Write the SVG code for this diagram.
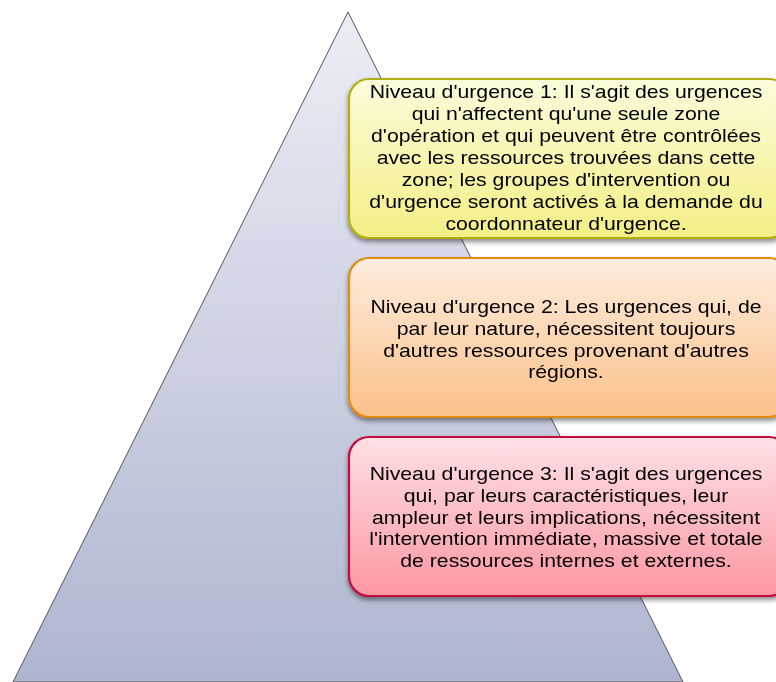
<svg xmlns="http://www.w3.org/2000/svg" width="776" height="682" viewBox="0 0 776 682">
<defs>
<linearGradient id="gTri" x1="0" y1="0" x2="0" y2="1">
<stop offset="0" stop-color="#eceef5"/>
<stop offset="1" stop-color="#aeb5d0"/>
</linearGradient>
<linearGradient id="g1" x1="0" y1="0" x2="0" y2="1">
<stop offset="0" stop-color="#fdfcdc"/>
<stop offset="1" stop-color="#f3ef86"/>
</linearGradient>
<linearGradient id="g2" x1="0" y1="0" x2="0" y2="1">
<stop offset="0" stop-color="#feeddf"/>
<stop offset="1" stop-color="#fbc18a"/>
</linearGradient>
<linearGradient id="g3" x1="0" y1="0" x2="0" y2="1">
<stop offset="0" stop-color="#fee1e5"/>
<stop offset="1" stop-color="#fd97a2"/>
</linearGradient>
<filter id="sh" x="-10%" y="-10%" width="120%" height="130%">
<feGaussianBlur in="SourceAlpha" stdDeviation="2.5"/>
<feOffset dx="0" dy="3" result="b"/>
<feComponentTransfer><feFuncA type="linear" slope="0.45"/></feComponentTransfer>
<feMerge><feMergeNode/><feMergeNode in="SourceGraphic"/></feMerge>
</filter>
</defs>
<style>
.t{font-family:"Liberation Sans",Arial,sans-serif;font-size:18px;fill:#000;text-anchor:middle}
.b{stroke-width:2.2}
</style>
<rect width="776" height="682" fill="#fff"/>
<g id="pyramid">
<polygon points="348,12 13,682 683,682" fill="url(#gTri)" stroke="#555" stroke-width="1"/>
</g>
<g id="level1" filter="url(#sh)">
<rect class="b" x="349" y="79" width="440" height="159" rx="20" fill="url(#g1)" stroke="#b3ad0e"/>
<text class="t" transform="translate(566,0) scale(1.18,1)"><tspan x="0" y="98">Niveau d'urgence 1: Il s'agit des urgences</tspan><tspan x="0" y="120">qui n'affectent qu'une seule zone</tspan><tspan x="0" y="142">d'opération et qui peuvent être contrôlées</tspan><tspan x="0" y="164">avec les ressources trouvées dans cette</tspan><tspan x="0" y="186">zone; les groupes d'intervention ou</tspan><tspan x="0" y="208">d'urgence seront activés à la demande du</tspan><tspan x="0" y="230">coordonnateur d'urgence.</tspan></text>
</g>
<g id="level2" filter="url(#sh)">
<rect class="b" x="349" y="258" width="440" height="159" rx="20" fill="url(#g2)" stroke="#df8b0c"/>
<text class="t" transform="translate(566,0) scale(1.18,1)"><tspan x="0" y="313">Niveau d'urgence 2: Les urgences qui, de</tspan><tspan x="0" y="335">par leur nature, nécessitent toujours</tspan><tspan x="0" y="357">d'autres ressources provenant d'autres</tspan><tspan x="0" y="378">régions.</tspan></text>
</g>
<g id="level3" filter="url(#sh)">
<rect class="b" x="349" y="437" width="440" height="159" rx="20" fill="url(#g3)" stroke="#c5073e"/>
<text class="t" transform="translate(566,0) scale(1.18,1)"><tspan x="0" y="480">Niveau d'urgence 3: Il s'agit des urgences</tspan><tspan x="0" y="502">qui, par leurs caractéristiques, leur</tspan><tspan x="0" y="524">ampleur et leurs implications, nécessitent</tspan><tspan x="0" y="545">l'intervention immédiate, massive et totale</tspan><tspan x="0" y="567">de ressources internes et externes.</tspan></text>
</g>
</svg>
